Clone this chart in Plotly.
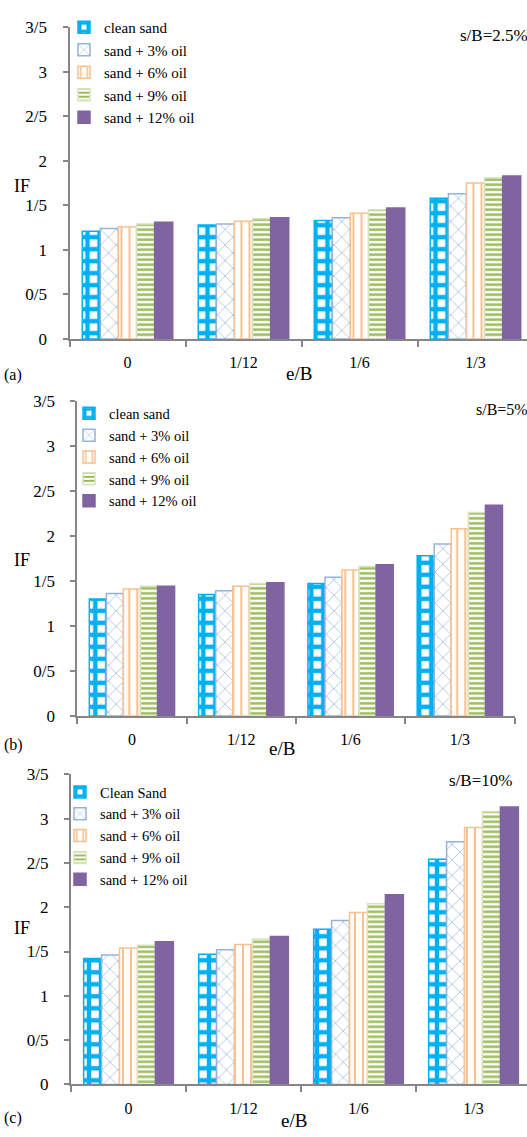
import plotly.graph_objects as go

W, H = 527, 1137

categories = ["0", "1/12", "1/6", "1/3"]
names_ab = ["clean sand", "sand + 3% oil", "sand + 6% oil", "sand + 9% oil", "sand + 12% oil"]
names_c = ["Clean Sand", "sand + 3% oil", "sand + 6% oil", "sand + 9% oil", "sand + 12% oil"]

a_clean = [1.21, 1.28, 1.33, 1.58]
a_oil3 = [1.24, 1.29, 1.36, 1.63]
a_oil6 = [1.26, 1.32, 1.41, 1.75]
a_oil9 = [1.29, 1.35, 1.45, 1.81]
a_oil12 = [1.31, 1.36, 1.47, 1.83]

b_clean = [1.30, 1.35, 1.47, 1.78]
b_oil3 = [1.36, 1.39, 1.54, 1.91]
b_oil6 = [1.41, 1.44, 1.62, 2.08]
b_oil9 = [1.44, 1.47, 1.66, 2.26]
b_oil12 = [1.44, 1.48, 1.68, 2.34]

c_clean = [1.42, 1.47, 1.75, 2.54]
c_oil3 = [1.46, 1.52, 1.85, 2.74]
c_oil6 = [1.54, 1.58, 1.94, 2.90]
c_oil9 = [1.57, 1.64, 2.04, 3.08]
c_oil12 = [1.61, 1.67, 2.14, 3.13]

y_tickvals = [0, 0.5, 1, 1.5, 2, 2.5, 3, 3.5]
y_ticktext = ["0", "0/5", "1", "1/5", "2", "2/5", "3", "3/5"]

panel_labels = ["(a)", "(b)", "(c)"]
sb_labels = ["s/B=2.5%", "s/B=5%", "s/B=10%"]

FONT = "Liberation Serif"
AXC = "#868686"

styles = [
    dict(line="#00B0F0", pattern=dict(shape="+", fgcolor="#00B0F0", bgcolor="white", size=12, solidity=0.6, fillmode="replace")),
    dict(line="#95B3D7", pattern=dict(shape="x", fgcolor="#95B3D7", bgcolor="white", size=11, solidity=0.12, fillmode="replace")),
    dict(line="#FAC090", pattern=dict(shape="|", fgcolor="#FAC090", bgcolor="white", size=8, solidity=0.25, fillmode="replace")),
    dict(line="#D7E4BD", pattern=dict(shape="-", fgcolor="#9BBB59", bgcolor="white", size=5, solidity=0.5, fillmode="replace")),
    dict(line="#8064A2", pattern=None, color="#8064A2"),
]

panels = [
    dict(data=[a_clean, a_oil3, a_oil6, a_oil9, a_oil12], names=names_ab,
         x0=69.5, catw=116, y0=335.5, y35=18.5, legend_x=64, legend_top=2, legend_font=15,
         if_y=180, eb=(299, 371), lab_y=372, sb=(458, 27, "left", 17)),
    dict(data=[b_clean, b_oil3, b_oil6, b_oil9, b_oil12], names=names_ab,
         x0=77.3, catw=109.3, y0=719, y35=398.5, legend_x=69, legend_top=395, legend_font=14.5,
         if_y=560, eb=(282, 752), lab_y=749, sb=(501.5, 407, "center", 16)),
    dict(data=[c_clean, c_oil3, c_oil6, c_oil9, c_oil12], names=names_c,
         x0=71, catw=115, y0=1093.7, y35=778.3, legend_x=60, legend_top=780, legend_font=14.5,
         if_y=935, eb=(294, 1130), lab_y=1128, sb=(447, 785, "left", 17)),
]

fig = go.Figure()
annotations = []
layout = {}
for i, p in enumerate(panels):
    n = i + 1
    sfx = "" if n == 1 else str(n)
    leg = "legend" if n == 1 else f"legend{n}"
    for j, vals in enumerate(p["data"]):
        st = styles[j]
        marker = dict(line=dict(color=st["line"], width=1.5))
        if st["pattern"] is not None:
            marker["color"] = "white"
            marker["pattern"] = st["pattern"]
        else:
            marker["color"] = st["color"]
        fig.add_trace(go.Bar(x=categories, y=vals, name=p["names"][j], marker=marker,
                             xaxis="x" + sfx, yaxis="y" + sfx, legend=leg,
                             offsetgroup=str(j)))
    x_end = min(W, p["x0"] + 4 * p["catw"])
    xr_end = -0.5 + (x_end - p["x0"]) / p["catw"]
    layout["xaxis" + sfx] = dict(
        domain=[p["x0"] / W, x_end / W], anchor="y" + sfx, type="category",
        range=[-0.5, xr_end], showline=True, linecolor=AXC, linewidth=2,
        ticks="outside", tickson="boundaries", ticklen=6, tickcolor=AXC, tickwidth=2,
        showgrid=False, zeroline=False, ticklabelstandoff=8,
        tickfont=dict(family=FONT, size=16, color="black"))
    layout["yaxis" + sfx] = dict(
        domain=[(H - p["y0"]) / H, (H - p["y35"]) / H], anchor="x" + sfx,
        range=[0, 3.5], tickvals=y_tickvals, ticktext=y_ticktext,
        showline=True, linecolor=AXC, linewidth=2, ticks="outside", ticklen=5,
        tickcolor=AXC, tickwidth=2, showgrid=False, zeroline=False,
        ticklabelstandoff=12, tickfont=dict(family=FONT, size=17, color="black"))
    layout[leg] = dict(x=p["legend_x"] / W, xanchor="left", y=1 - p["legend_top"] / H,
                       yanchor="top", bgcolor="rgba(0,0,0,0)",
                       font=dict(family=FONT, size=p["legend_font"], color="black"),
                       itemwidth=30, tracegroupgap=0)
    common = dict(xref="paper", yref="paper", showarrow=False, xanchor="center", yanchor="middle")
    sbx, sby, sba, sbf = p["sb"]
    annotations += [
        dict(text="IF", x=22 / W, y=1 - p["if_y"] / H,
             font=dict(family=FONT, size=18, color="black"), **common),
        dict(text="e/B", x=p["eb"][0] / W, y=1 - p["eb"][1] / H,
             font=dict(family=FONT, size=19, color="black"), **common),
        dict(text=panel_labels[i], x=13 / W, y=1 - p["lab_y"] / H,
             font=dict(family=FONT, size=16, color="black"), **common),
        dict(text=sb_labels[i], x=sbx / W, y=1 - sby / H,
             xref="paper", yref="paper", showarrow=False, xanchor=sba, yanchor="middle",
             font=dict(family=FONT, size=sbf, color="black")),
    ]

fig.update_layout(**layout)
fig.update_layout(width=W, height=H, autosize=False, margin=dict(l=0, r=0, t=0, b=0),
                  font=dict(family=FONT, color="black"),
                  plot_bgcolor="white", paper_bgcolor="white", barmode="group",
                  bargap=0.22, bargroupgap=0, annotations=annotations, showlegend=True)
fig.write_html("out.html")
